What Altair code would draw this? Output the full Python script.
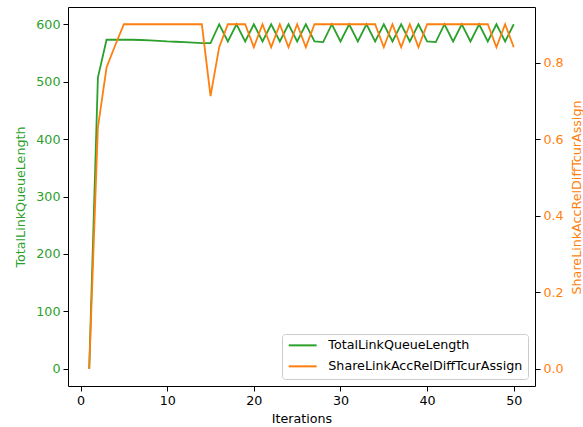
import altair as alt
import pandas as pd

iterations = list(range(1, 51))
queue_length = [0, 507, 573, 573, 573, 573, 572.5, 572, 571, 570, 569.5, 569, 568, 567, 567,
                600, 570, 600, 570, 600, 570, 600, 570, 600, 570, 600, 570, 569, 600, 570,
                600, 570, 600, 570, 600, 570, 600, 570, 600, 570, 569, 600, 570, 600, 570,
                600, 570, 600, 570, 600]
share_diff = [0, 0.63, 0.787, 0.845, 0.9, 0.9, 0.9, 0.9, 0.9, 0.9, 0.9, 0.9, 0.9, 0.9, 0.712,
              0.84, 0.9, 0.9, 0.9, 0.84, 0.9, 0.84, 0.9, 0.84, 0.9, 0.84, 0.9, 0.9, 0.9, 0.9,
              0.9, 0.9, 0.9, 0.9, 0.84, 0.9, 0.84, 0.9, 0.84, 0.9, 0.9, 0.9, 0.9, 0.9, 0.9,
              0.9, 0.9, 0.84, 0.9, 0.84]
series_names = ["TotalLinkQueueLength", "ShareLinkAccRelDiffTcurAssign"]
series_colors = ["#2ca02c", "#ff7f0e"]

df = pd.DataFrame({"it": iterations, "q": queue_length, "s": share_diff})

FONT = "DejaVu Sans"
FS = 12.7

x_enc = alt.X("it:Q", scale=alt.Scale(domain=[-1.45, 52.45], nice=False, zero=False),
              axis=alt.Axis(title="Iterations", values=[0, 10, 20, 30, 40, 50], labelColor="black",
                            titleColor="black", titlePadding=6))
color_enc = alt.Color("series:N", scale=alt.Scale(domain=series_names, range=series_colors),
                      legend=alt.Legend(title=None, orient="bottom-right", offset=7,
                                        symbolType="M-1,0H5", symbolSize=86.5, symbolStrokeWidth=2,
                                        labelFontSize=FS, labelFont=FONT, labelColor="black",
                                        labelOffset=28.6, rowPadding=7, padding=5,
                                        fillColor="white", strokeColor="#cccccc",
                                        cornerRadius=3, labelLimit=400))

base = alt.Chart(df)

left = base.transform_calculate(series="'TotalLinkQueueLength'").mark_line(strokeWidth=1.8).encode(
    x=x_enc,
    y=alt.Y("q:Q", scale=alt.Scale(domain=[-30, 630], nice=False, zero=False),
            axis=alt.Axis(title="TotalLinkQueueLength", values=[0, 100, 200, 300, 400, 500, 600],
                          labelColor="#2ca02c", titleColor="#2ca02c", orient="left", titlePadding=8)),
    color=color_enc,
)

right = base.transform_calculate(series="'ShareLinkAccRelDiffTcurAssign'").mark_line(strokeWidth=1.8).encode(
    x=x_enc,
    y=alt.Y("s:Q", scale=alt.Scale(domain=[-0.045, 0.945], nice=False, zero=False),
            axis=alt.Axis(title="ShareLinkAccRelDiffTcurAssign", values=[0, 0.2, 0.4, 0.6, 0.8],
                          format=".1f", labelColor="#ff7f0e", titleColor="#ff7f0e", orient="right",
                          titleAngle=270, titleX=41, titleY=190, titleBaseline="middle",
                          titleAlign="center")),
    color=color_enc,
)

chart = alt.layer(left, right).resolve_scale(y="independent").properties(
    width=467, height=379,
    autosize=alt.AutoSizeParams(type="none"),
    padding={"left": 68, "top": 7, "right": 48, "bottom": 41},
    background="white",
).configure_view(stroke="black", strokeWidth=1).configure_axis(
    grid=False, domain=False, tickColor="black", tickSize=5, tickWidth=1,
    labelFont=FONT, labelFontSize=FS, titleFont=FONT, titleFontSize=FS,
    titleFontWeight="normal", labelPadding=3,
)

chart.save("out.html", embed_options={"renderer": "svg", "actions": False})
